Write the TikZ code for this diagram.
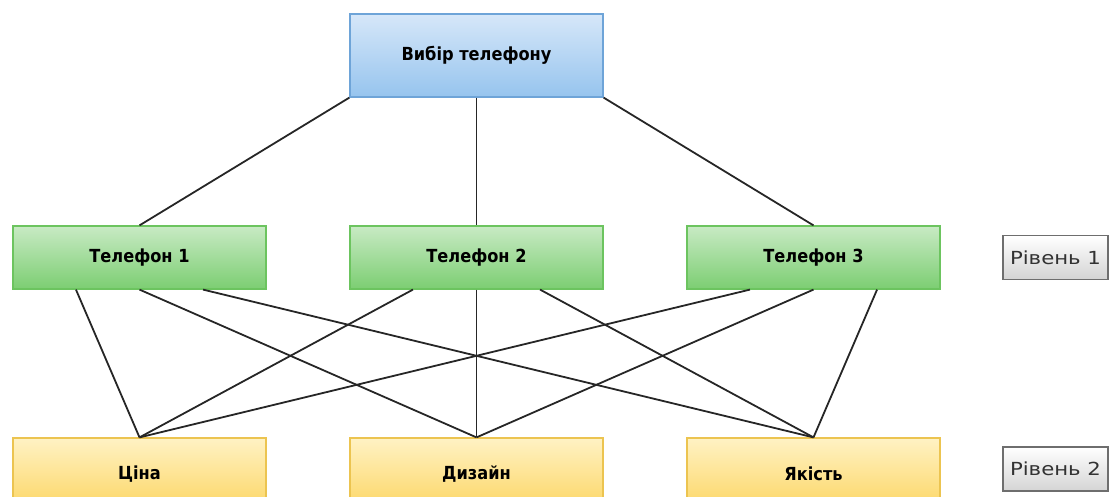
\documentclass[tikz,border=0pt]{standalone}
\usepackage{fontspec}
\setmainfont{DejaVu Sans}
\newfontfamily\boxfont[FakeStretch=0.9]{DejaVu Sans}
\newfontfamily\lvfont[FakeStretch=1.18]{DejaVu Sans}
\usetikzlibrary{calc}
\definecolor{bluetop}{RGB}{214,231,249}
\definecolor{bluebot}{RGB}{150,196,238}
\definecolor{blueedge}{RGB}{110,164,216}
\definecolor{greentop}{RGB}{200,234,196}
\definecolor{greenbot}{RGB}{124,206,114}
\definecolor{greenedge}{RGB}{108,196,95}
\definecolor{yellowtop}{RGB}{255,242,196}
\definecolor{yellowbot}{RGB}{252,214,100}
\definecolor{yellowedge}{RGB}{236,196,80}
\definecolor{lvedge}{RGB}{110,110,110}
\definecolor{lvbot}{RGB}{212,212,212}
\tikzset{
  box/.style={rectangle, minimum width=253pt, inner sep=0pt, line width=1.2pt, font=\boxfont\bfseries\fontsize{18}{20}\selectfont, text=black},
  goalbox/.style={box, minimum height=83pt, draw=blueedge, top color=bluetop, bottom color=bluebot},
  altbox/.style={box, minimum height=63pt, draw=greenedge, top color=greentop, bottom color=greenbot},
  critbox/.style={box, minimum height=72pt, draw=yellowedge, top color=yellowtop, bottom color=yellowbot},
  lvbox/.style={rectangle, minimum width=105pt, minimum height=44pt, inner sep=0pt, line width=1.3pt, draw=lvedge, top color=white, bottom color=lvbot, font=\lvfont\fontsize{18}{20}\selectfont, text={rgb,255:red,50;green,50;blue,50}},
  link/.style={line width=1.8pt, black!85}
}
\begin{document}
\begin{tikzpicture}[x=1pt,y=-1pt]
\useasboundingbox (0,0) rectangle (1119,497);
\clip (0,0) rectangle (1119,497);
\node[goalbox] (goal) at (476.5,55.5) {Вибір телефону};
\node[altbox] (t1) at (139.5,257.5) {Телефон 1};
\node[altbox] (t2) at (476.5,257.5) {Телефон 2};
\node[altbox] (t3) at (813.5,257.5) {Телефон 3};
\node[critbox] (c1) at (139.5,474) {Ціна};
\node[critbox] (c2) at (476.5,474) {Дизайн};
\node[critbox] (c3) at (813.5,474) {Якість};
\node[lvbox] (lv1) at (1055.5,257.5) {Рівень 1};
\node[lvbox] (lv2) at (1055.5,469) {Рівень 2};
\draw[link] (goal.south west) -- (t1.north);
\draw[link] (goal.south) -- (t2.north);
\draw[link] (goal.south east) -- (t3.north);
\foreach \t in {t1,t2,t3}{
  \draw[link] ($(\t.south west)!0.25!(\t.south east)$) -- (c1.north);
  \draw[link] (\t.south) -- (c2.north);
  \draw[link] ($(\t.south west)!0.75!(\t.south east)$) -- (c3.north);
}
\end{tikzpicture}
\end{document}
